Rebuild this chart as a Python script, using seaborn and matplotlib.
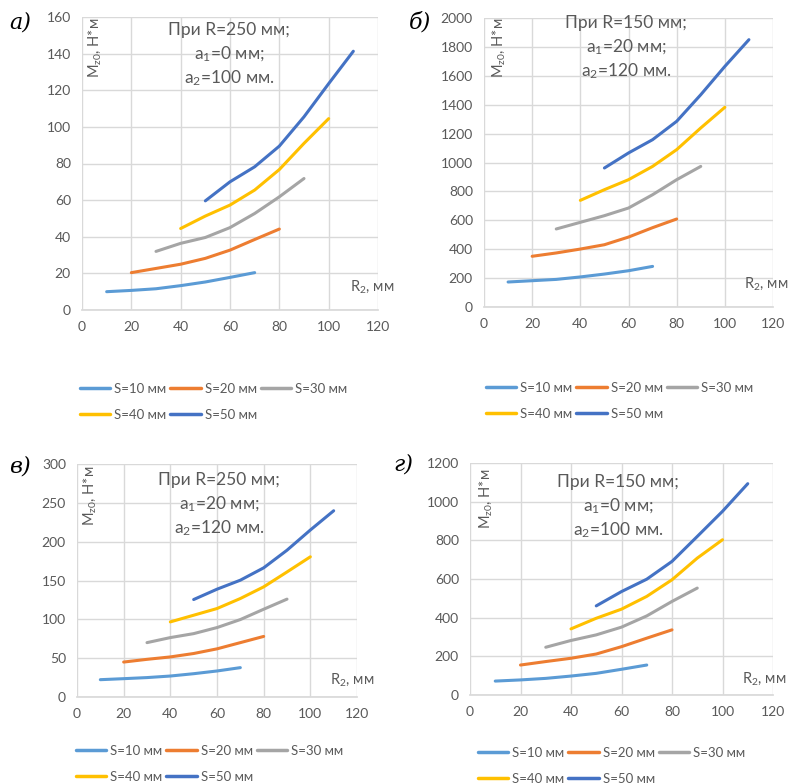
import numpy as np
import pandas as pd
import matplotlib
matplotlib.use("Agg")
import matplotlib.pyplot as plt
import seaborn as sns
from matplotlib.lines import Line2D

# R2 grid, mm; series S starts at R2 = S and has 7 points
R2 = [10, 20, 30, 40, 50, 60, 70, 80, 90, 100, 110]
S_VALUES = [10, 20, 30, 40, 50]
S_LABELS = ["S=10 мм", "S=20 мм", "S=30 мм", "S=40 мм", "S=50 мм"]
COLORS = ["#5B9BD5", "#ED7D31", "#A5A5A5", "#FFC000", "#4472C4"]

# M_z0, N*m
M_A = [
    [10.0, 10.7, 11.6, 13.3, 15.3, 17.8, 20.4],
    [20.4, 22.7, 25.0, 28.2, 32.7, 38.5, 44.2],
    [32.0, 36.4, 39.6, 45.0, 52.7, 61.8, 71.8],
    [44.5, 51.3, 57.3, 65.5, 76.7, 91.0, 104.5],
    [59.6, 70.0, 78.2, 89.5, 105.5, 123.6, 141.3],
]
M_B = [
    [173, 182, 191, 208, 228, 251, 281],
    [351, 374, 401, 431, 484, 549, 609],
    [540, 586, 632, 685, 777, 881, 973],
    [738, 812, 881, 973, 1089, 1239, 1382],
    [962, 1066, 1158, 1285, 1469, 1665, 1850],
]
M_V = [
    [22.3, 23.6, 25.0, 27.0, 30.0, 33.5, 37.8],
    [45.0, 48.5, 51.6, 56.0, 62.0, 70.0, 78.0],
    [70.0, 76.5, 81.6, 89.4, 99.7, 113.0, 126.0],
    [96.7, 105.3, 113.9, 126.8, 141.8, 161.0, 180.5],
    [125.5, 138.8, 150.4, 166.3, 189.0, 215.0, 239.8],
]
M_G = [
    [72, 78, 86, 98, 112, 133, 155],
    [155, 173, 190, 212, 250, 294, 337],
    [247, 282, 311, 351, 409, 484, 553],
    [342, 397, 444, 510, 596, 708, 803],
    [461, 535, 599, 691, 820, 950, 1093],
]

PANELS = [
    dict(letter="а)", data=M_A, ymax=160, step=20,
         note=["При R=250 мм;", "a$_1$=0 мм;", "a$_2$=100 мм."]),
    dict(letter="б)", data=M_B, ymax=2000, step=200,
         note=["При R=150 мм;", "a$_1$=20 мм;", "a$_2$=120 мм."]),
    dict(letter="в)", data=M_V, ymax=300, step=50,
         note=["При R=250 мм;", "a$_1$=20 мм;", "a$_2$=120 мм."]),
    dict(letter="г)", data=M_G, ymax=1200, step=200,
         note=["При R=150 мм;", "a$_1$=0 мм;", "a$_2$=100 мм."]),
]

W, H = 791, 784
# axes boxes in pixels: left, top, right, bottom
BOXES = [(82, 17, 378, 310), (484, 18, 773, 307),
         (77, 464, 357, 697), (470, 463, 773, 695)]
# text positions in pixels
LETTER_XY = [(20, 22), (420, 22), (20, 466), (403, 464)]
YLAB_XY = [(95, 18), (499, 18), (90, 466), (486, 469)]
XLAB_XY = [(372, 287), (766, 284), (352, 680), (764, 679)]
NOTE_XY = [(229, 30), (626, 23), (219, 480), (618, 482)]
NOTE_DY = 24
LEG_XY = [(80, 389), (486, 388), (76, 751), (478, 753)]

sns.set_theme(style="white")
plt.rcParams["font.family"] = ["Lato", "DejaVu Sans"]
plt.rcParams["mathtext.fontset"] = "custom"
plt.rcParams["mathtext.rm"] = "Lato"
plt.rcParams["mathtext.it"] = "Lato:italic"
plt.rcParams["mathtext.default"] = "rm"

GREY = "#595959"
GRID = "#D9D9D9"


def fx(x):
    return x / W


def fy(y):
    return 1 - y / H


fig = plt.figure(figsize=(W / 100, H / 100), dpi=100)

for i, p in enumerate(PANELS):
    l, t, r, b = BOXES[i]
    ax = fig.add_axes([fx(l), fy(b), (r - l) / W, (b - t) / H])

    rows = []
    for k, s in enumerate(S_VALUES):
        for x, m in zip(R2[k:k + 7], p["data"][k]):
            rows.append({"R2": x, "M": m, "S": S_LABELS[k]})
    df = pd.DataFrame(rows)
    sns.lineplot(data=df, x="R2", y="M", hue="S", hue_order=S_LABELS,
                 palette=COLORS, linewidth=2.2, ax=ax, legend=False)

    ax.set_xlim(0, 120)
    ax.set_ylim(0, p["ymax"])
    ax.set_xticks(range(0, 121, 20))
    ax.set_yticks(np.arange(0, p["ymax"] + 1, p["step"]))
    ax.grid(True, color=GRID, linewidth=1)
    ax.set_axisbelow(True)
    for sp in ax.spines.values():
        sp.set_visible(False)
    ax.spines["bottom"].set_visible(True)
    ax.spines["bottom"].set_color(GRID)
    ax.tick_params(length=0, labelsize=10, labelcolor=GREY, pad=8)
    ax.set_xlabel("")
    ax.set_ylabel("")

    fig.text(fx(LETTER_XY[i][0]), fy(LETTER_XY[i][1]), p["letter"],
             family="DejaVu Serif", style="italic", fontsize=16,
             ha="center", va="center", color="black")
    fig.text(fx(YLAB_XY[i][0]), fy(YLAB_XY[i][1]), r"M$_{z0}$, Н*м",
             rotation=90, ha="center", va="top", fontsize=10.5, color=GREY)
    fig.text(fx(XLAB_XY[i][0]), fy(XLAB_XY[i][1]), r"R$_2$, мм",
             ha="center", va="center", fontsize=10.5, color=GREY)
    nx, ny = NOTE_XY[i]
    for j, line in enumerate(p["note"]):
        fig.text(fx(nx), fy(ny + j * NOTE_DY), line, ha="center",
                 va="center", fontsize=12.5, color=GREY)

    handles = [Line2D([], [], color=c, linewidth=2.5) for c in COLORS]
    order = [0, 3, 1, 4, 2]
    lx, ly = LEG_XY[i]
    leg = fig.legend([handles[k] for k in order], [S_LABELS[k] for k in order],
                     loc="upper left", bbox_to_anchor=(fx(lx), fy(ly - 6)),
                     ncol=3, frameon=False, fontsize=9.5, handlelength=2.3,
                     handletextpad=0.3, columnspacing=0.3, labelspacing=1.05,
                     borderpad=0, borderaxespad=0)
    for txt in leg.get_texts():
        txt.set_color(GREY)

fig.savefig("out.png", dpi=100)
